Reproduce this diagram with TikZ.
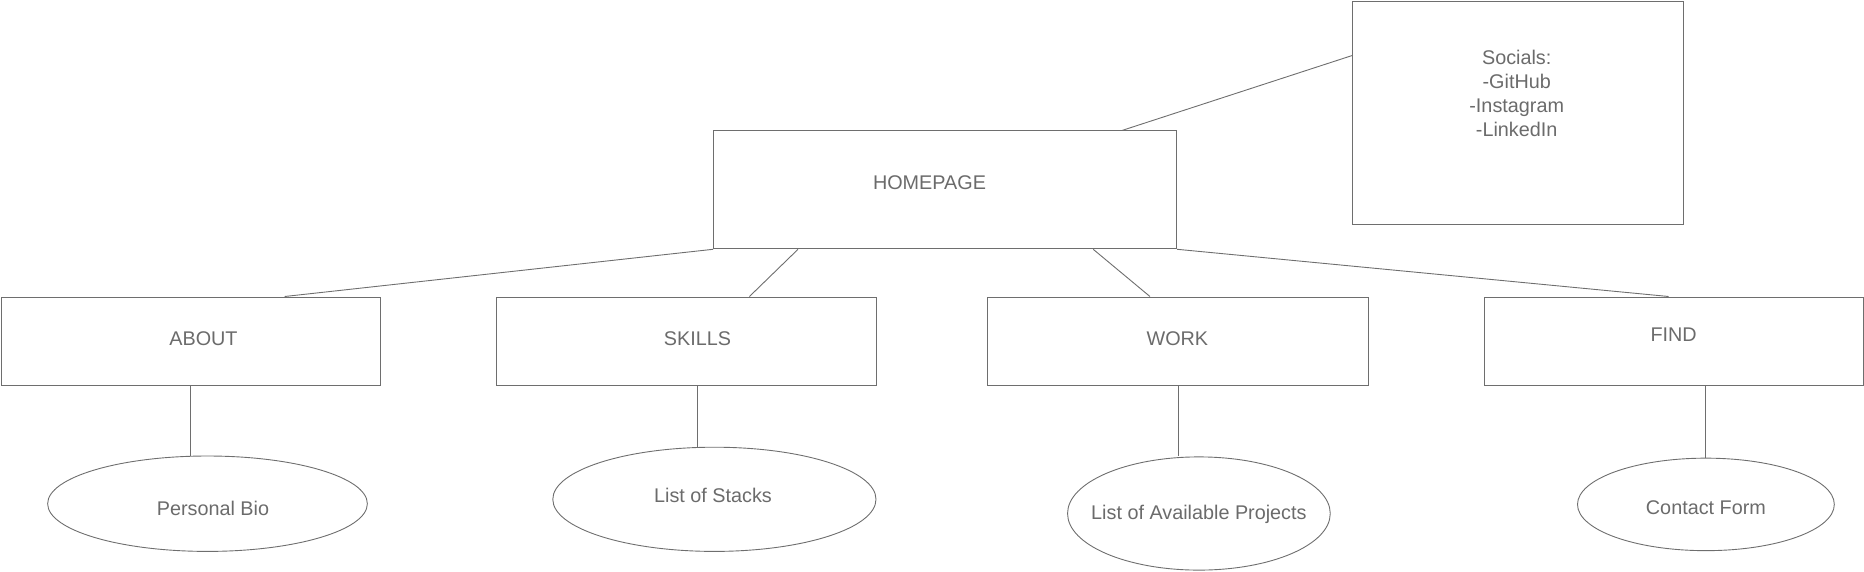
\documentclass[tikz,border=0pt]{standalone}
\usepackage{fontspec}
\setmainfont{Liberation Sans}
\usetikzlibrary{shapes.geometric}
\definecolor{linegray}{HTML}{6E6E6E}
\definecolor{textgray}{HTML}{6B6B6B}
\begin{document}
\begin{tikzpicture}[x=1pt,y=-1pt,
  box/.style={draw=linegray, line width=0.9pt, rectangle, inner sep=0pt, anchor=north west},
  oval/.style={draw=linegray, line width=0.9pt, ellipse, inner sep=0pt},
  lbl/.style={text=textgray, font=\fontsize{19.8}{24}\selectfont, align=center, inner sep=0pt},
  conn/.style={draw=linegray, line width=0.9pt}]
\useasboundingbox (0,0) rectangle (1864,571);

% boxes
\node[box, minimum width=463.3pt, minimum height=118pt,
  label={[lbl, xshift=-15.6pt, yshift=7.4pt]center:{HOMEPAGE}}] (home) at (713,130.4) {};
\node[box, minimum width=331.1pt, minimum height=223.8pt,
  label={[lbl, xshift=-1.5pt, yshift=19.4pt]center:{Socials:\\-GitHub\\-Instagram\\-LinkedIn}}] (socials) at (1352.2,0.5) {};
\node[box, minimum width=379.5pt, minimum height=88.8pt,
  label={[lbl, xshift=12.75pt, yshift=2.2pt]center:{ABOUT}}] (about) at (0.5,296.5) {};
\node[box, minimum width=380pt, minimum height=88.8pt,
  label={[lbl, xshift=11pt, yshift=2.9pt]center:{SKILLS}}] (skills) at (496,296.5) {};
\node[box, minimum width=380.4pt, minimum height=88.8pt,
  label={[lbl, xshift=-0.6pt, yshift=2.9pt]center:{WORK}}] (work) at (987.3,296.5) {};
\node[box, minimum width=379.2pt, minimum height=88.8pt,
  label={[lbl, yshift=6.6pt]center:{FIND}}] (find) at (1483.6,296.5) {};

% ovals
\node[oval, minimum width=319.7pt, minimum height=95.4pt,
  label={[lbl, xshift=5.5pt, yshift=-4.3pt]center:{Personal Bio}}] (pbio) at (207.5,503.7) {};
\node[oval, minimum width=323.2pt, minimum height=104.2pt,
  label={[lbl, xshift=-1.4pt, yshift=4pt]center:{List of Stacks}}] (stacks) at (714.4,499.3) {};
\node[oval, minimum width=262.7pt, minimum height=113.2pt,
  label={[lbl, yshift=-0.8pt]center:{List of Available Projects}}] (projects) at (1198.9,513.5) {};
\node[oval, minimum width=256.8pt, minimum height=92.5pt,
  label={[lbl, yshift=-3.6pt]center:{Contact Form}}] (contact) at (1705.9,504.4) {};

% connectors
\draw[conn] (home.south west) -- ([xshift=94pt]about.north);
\draw[conn] ([xshift=85pt]home.south west) -- ([xshift=63pt]skills.north);
\draw[conn] ([xshift=-84pt]home.south east) -- ([xshift=-28pt]work.north);
\draw[conn] (home.south east) -- ([xshift=-5pt]find.north);
\draw[conn] ([yshift=-55pt]socials.north west) -- ([xshift=-55pt]home.north east);
\draw[conn] (about.south) -- (about.south |- pbio.north);
\draw[conn] ([xshift=11pt]skills.south) -- ([xshift=11pt]skills.south |- stacks.north);
\draw[conn] (work.south) -- (work.south |- projects.north);
\draw[conn] (find.south -| contact.north) -- (contact.north);
\end{tikzpicture}
\end{document}
